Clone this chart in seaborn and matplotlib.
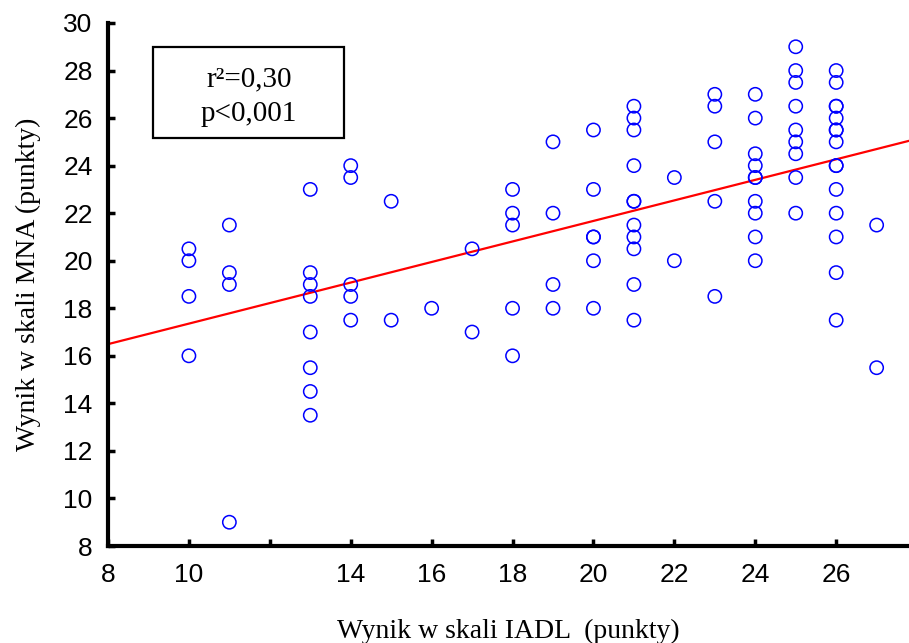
import numpy as np
import pandas as pd
import matplotlib
matplotlib.use("Agg")
import matplotlib.pyplot as plt
import matplotlib.patches as mpatches
import seaborn as sns

# IADL score (x) and MNA score (y) for each respondent
iadl = ([10] * 4 + [11] * 4 + [13] * 8 + [14] * 5 + [15] * 2 + [16] * 1 + [17] * 2 +
        [18] * 5 + [19] * 4 + [20] * 6 + [21] * 11 + [22] * 2 + [23] * 5 + [24] * 10 +
        [25] * 9 + [26] * 15 + [27] * 2)
mna = ([20.5, 20.0, 18.5, 16.0] +
       [21.5, 19.5, 19.0, 9.0] +
       [23.0, 19.5, 19.0, 18.5, 17.0, 15.5, 14.5, 13.5] +
       [24.0, 23.5, 19.0, 18.5, 17.5] +
       [22.5, 17.5] +
       [18.0] +
       [20.5, 17.0] +
       [23.0, 22.0, 21.5, 18.0, 16.0] +
       [25.0, 22.0, 19.0, 18.0] +
       [25.5, 23.0, 21.0, 21.0, 20.0, 18.0] +
       [26.5, 26.0, 25.5, 24.0, 22.5, 22.5, 21.5, 21.0, 20.5, 19.0, 17.5] +
       [23.5, 20.0] +
       [27.0, 26.5, 25.0, 22.5, 18.5] +
       [27.0, 26.0, 24.5, 24.0, 23.5, 23.5, 22.5, 22.0, 21.0, 20.0] +
       [29.0, 28.0, 27.5, 26.5, 25.5, 25.0, 24.5, 23.5, 22.0] +
       [28.0, 27.5, 26.5, 26.5, 26.0, 25.5, 25.5, 25.0, 24.0, 24.0, 23.0, 22.0, 21.0, 19.5, 17.5] +
       [21.5, 15.5])

x_ticks = [8, 10, 12, 14, 16, 18, 20, 22, 24, 26]
x_tick_labels = ["8", "10", "", "14", "16", "18", "20", "22", "24", "26"]
y_ticks = [8, 10, 12, 14, 16, 18, 20, 22, 24, 26, 28, 30]
stats_lines = ["r\u00b2=0,30", "p<0,001"]
x_label = "Wynik w skali IADL  (punkty)"
y_label = "Wynik w skali MNA (punkty)"

df = pd.DataFrame({"IADL": iadl, "MNA": mna})

sns.set_theme(style="white")
plt.rcParams["font.family"] = ["Liberation Sans", "DejaVu Sans"]

W, H = 909, 643
fig = plt.figure(figsize=(W / 100, H / 100), dpi=100)
ax = fig.add_axes([108 / W, 97 / H, 1 - 108 / W, (546 - 23) / H])
ax.set_xlim(8, 27.8)
ax.set_ylim(8, 30)

sns.regplot(data=df, x="IADL", y="MNA", ax=ax, scatter=False, ci=None,
            truncate=False, color="red", line_kws={"linewidth": 1.6})
sns.scatterplot(data=df, x="IADL", y="MNA", ax=ax, marker="o", s=92,
                facecolor="none", edgecolor="#0000ff", linewidth=1.1, zorder=3)

ax.set_xlim(8, 27.8)
ax.set_ylim(8, 30)
ax.set_xticks(x_ticks)
ax.set_xticklabels(x_tick_labels)
ax.set_yticks(y_ticks)
ax.set_yticklabels([str(v) for v in y_ticks])

for side in ["top", "right"]:
    ax.spines[side].set_visible(False)
for side in ["left", "bottom"]:
    ax.spines[side].set_color("black")
    ax.spines[side].set_linewidth(3)
ax.tick_params(axis="both", direction="in", length=5, width=2.5, color="black",
               labelsize=19, labelcolor="black", left=True, bottom=True)
ax.tick_params(axis="x", pad=12)
ax.tick_params(axis="y", pad=11)
ax.grid(False)

ax.set_xlabel(x_label, family="Liberation Serif", fontsize=20, color="black", labelpad=23)
ax.set_ylabel(y_label, family="Liberation Serif", fontsize=20, color="black", labelpad=16)

# statistics box
box = mpatches.Rectangle((153 / W, 1 - 138 / H), (344 - 153) / W, (138 - 47) / H,
                         transform=fig.transFigure, facecolor="white",
                         edgecolor="black", linewidth=1.6, zorder=5)
fig.patches.append(box)
for txt, ypix in zip(stats_lines, [79, 114]):
    fig.text(249 / W, 1 - ypix / H, txt, ha="center", va="center",
             family="Liberation Serif", fontsize=21, color="black", zorder=6)

fig.savefig("out.png", dpi=100)
